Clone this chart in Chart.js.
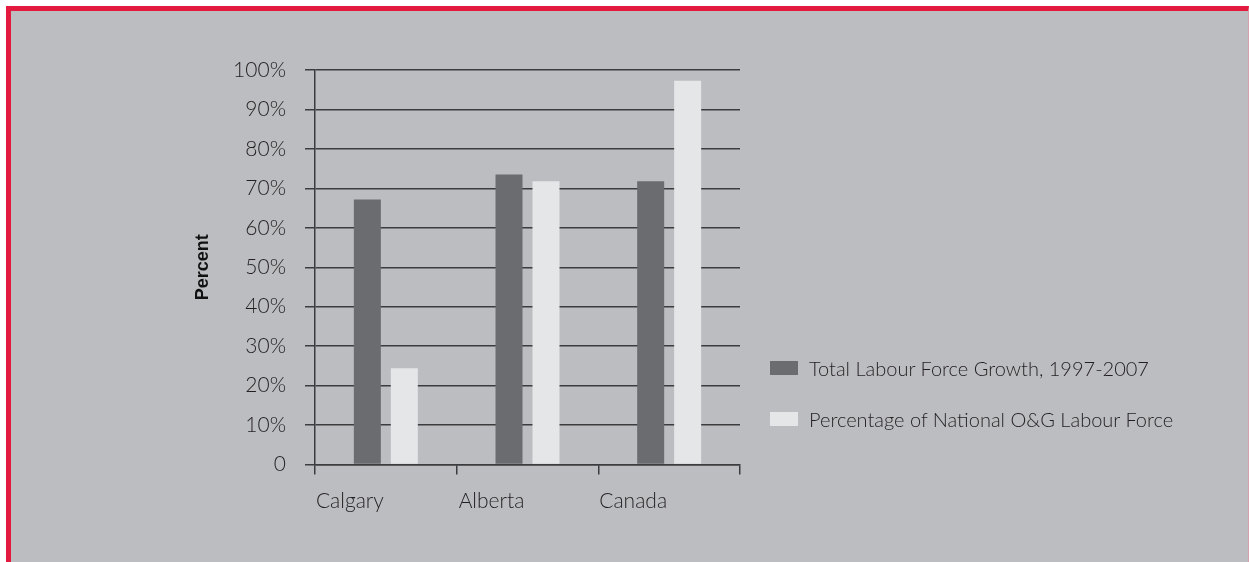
<!DOCTYPE html>
<html>
<head>
<meta charset="utf-8">
<script src="https://cdn.jsdelivr.net/npm/chart.js@4.4.1/dist/chart.umd.min.js"></script>
<style>
  body { margin: 0; background: #fff; }
  #frame {
    position: absolute; left: 6px; top: 6px; width: 1237px; height: 556px;
    background: #bcbdc1;
    border-left: 5px solid #e31a3d; border-top: 5px solid #e31a3d;
    border-right: 1px solid #d7a0ae;
  }
  #chart { position: absolute; left: 0; top: 0; }
  #legend {
    position: absolute; left: 770px; top: 354px;
    font-family: Lato, sans-serif; font-weight: 300; font-size: 20px; color: #231f20;
  }
  .item { display: flex; align-items: center; height: 28px; margin-bottom: 23px; }
  .swatch { width: 28px; height: 14px; margin-right: 11px; }
</style>
</head>
<body>
<div id="frame"></div>
<canvas id="chart" width="1249" height="562"></canvas>
<div id="legend"></div>
<script>
const regions = ["Calgary", "Alberta", "Canada"];
const labourGrowth = [67.2, 73.5, 71.8];
const nationalShare = [24.4, 71.8, 97.3];
const seriesNames = [
  "Total Labour Force Growth, 1997-2007",
  "Percentage of National O&G Labour Force",
];

const lineColor = "#3c3c3e";
const textColor = "#231f20";
const tickFont = { family: "Lato", weight: 300, size: 21 };

const ctx = document.getElementById("chart").getContext("2d");

const chart = new Chart(ctx, {
  type: "bar",
  data: {
    labels: regions,
    datasets: [
      {
        label: seriesNames[0],
        data: labourGrowth,
        backgroundColor: "#6b6c70",
      },
      {
        label: seriesNames[1],
        data: nationalShare,
        backgroundColor: "#e5e6e8",
      },
    ],
  },
  options: {
    responsive: false,
    animation: false,
    categoryPercentage: 0.522,
    barPercentage: 0.73,
    layout: { padding: { left: 192, top: 70, right: 509, bottom: 37.5 } },
    plugins: {
      legend: { display: false },
      tooltip: { enabled: false },
    },
    scales: {
      x: {
        afterFit: (axis) => { axis.height = 60; },
        grid: {
          offset: true,
          tickLength: 10,
          lineWidth: 1.5,
          // only the outer boundaries show as vertical lines
          color: (c) => (c.index === 3 ? lineColor : "rgba(0,0,0,0)"),
          tickColor: lineColor,
        },
        border: { color: lineColor, width: 1.5 },
        ticks: {
          color: textColor,
          font: tickFont,
          padding: 14,
          labelOffset: -36,
        },
      },
      y: {
        min: 0,
        max: 100,
        afterFit: (axis) => { axis.width = 123; },
        grid: { color: lineColor, lineWidth: 1.5, tickLength: 10 },
        border: { color: lineColor, width: 1.5 },
        ticks: {
          stepSize: 10,
          color: textColor,
          font: tickFont,
          padding: 19,
          callback: (v) => (v === 0 ? "0" : v + "%"),
        },
        title: {
          display: true,
          text: "Percent",
          color: "#111",
          padding: 0,
          font: { family: "'Liberation Sans', Arial, sans-serif", weight: "bold", size: 18 },
        },
      },
    },
  },
});

// legend built from the datasets
const legend = document.getElementById("legend");
chart.data.datasets.forEach((ds) => {
  const item = document.createElement("div");
  item.className = "item";
  const sw = document.createElement("span");
  sw.className = "swatch";
  sw.style.background = ds.backgroundColor;
  const txt = document.createElement("span");
  txt.textContent = ds.label;
  item.appendChild(sw);
  item.appendChild(txt);
  legend.appendChild(item);
});
</script>
</body>
</html>
